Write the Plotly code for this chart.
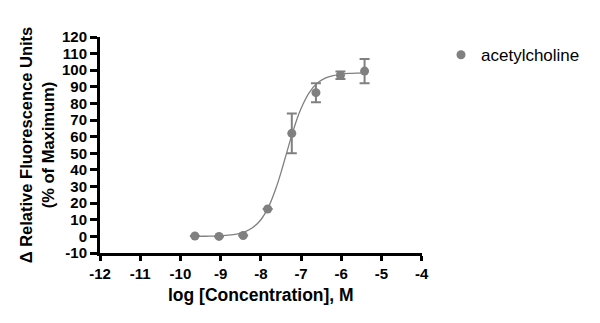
import plotly.graph_objects as go

# Data
log_conc = [-9.64, -9.04, -8.44, -7.83, -7.23, -6.63, -6.02, -5.42]
response = [0.2, 0.0, 0.5, 16.5, 62.0, 86.5, 97.0, 99.5]
err = [0.0, 0.0, 0.0, 0.0, 12.0, 5.7, 2.3, 7.3]

# Fitted curve
curve_x = [-9.64, -9.4, -9.2, -9.0, -8.8, -8.6, -8.4, -8.2, -8.0, -7.8, -7.6, -7.5, -7.4,
           -7.3, -7.2, -7.1, -7.0, -6.8, -6.6, -6.4, -6.2, -6.0, -5.8, -5.6, -5.42]
curve_y = [0.04, 0.09, 0.18, 0.35, 0.7, 1.4, 2.7, 5.3, 10.0, 18.2, 30.7, 38.4, 46.7,
           55.2, 63.3, 70.7, 77.0, 86.4, 92.1, 95.2, 96.8, 97.6, 98.1, 98.3, 98.4]

x_ticks = [-12, -11, -10, -9, -8, -7, -6, -5, -4]
y_ticks = list(range(-10, 121, 10))

GRAY = "#808080"
FONT = "Arial, Liberation Sans, sans-serif"

fig = go.Figure()
fig.add_trace(go.Scatter(x=curve_x, y=curve_y, mode="lines", line=dict(color=GRAY, width=1.3, shape="spline"),
                         showlegend=False, hoverinfo="skip"))
fig.add_trace(go.Scatter(x=log_conc, y=response, mode="markers", name="acetylcholine",
                         marker=dict(color=GRAY, size=9),
                         error_y=dict(type="data", array=err, color=GRAY, thickness=2, width=5)))

fig.update_layout(
    width=600, height=323,
    margin=dict(l=100, r=175, t=37, b=70),
    paper_bgcolor="white", plot_bgcolor="white",
    font=dict(family=FONT, color="black"),
    legend=dict(x=0.735, y=0.885, xref="container", yref="container", xanchor="left", yanchor="top",
                font=dict(size=17, family=FONT), bgcolor="rgba(0,0,0,0)"),
    xaxis=dict(range=[-12, -4], tickvals=x_ticks, ticktext=[str(v) for v in x_ticks],
               showgrid=False, zeroline=False, showline=True, linecolor="black", linewidth=3,
               ticks="outside", ticklen=5, tickwidth=2.5, tickcolor="black",
               tickfont=dict(size=15, family=FONT, weight="bold"),
               title=dict(text="log [Concentration], M", font=dict(size=17.5, family=FONT, weight="bold"), standoff=8)),
    yaxis=dict(range=[-10, 120], tickvals=y_ticks, ticktext=[str(v) for v in y_ticks],
               showgrid=False, zeroline=False, showline=True, linecolor="black", linewidth=3,
               ticks="outside", ticklen=7, tickwidth=2.5, tickcolor="black", ticklabelstandoff=0,
               tickfont=dict(size=15, family=FONT, weight="bold"),
               title=dict(text="Δ Relative Fluorescence Units<br>(% of Maximum)",
                          font=dict(size=16.5, family=FONT, weight="bold"), standoff=4)),
)

fig.write_html("out.html")
